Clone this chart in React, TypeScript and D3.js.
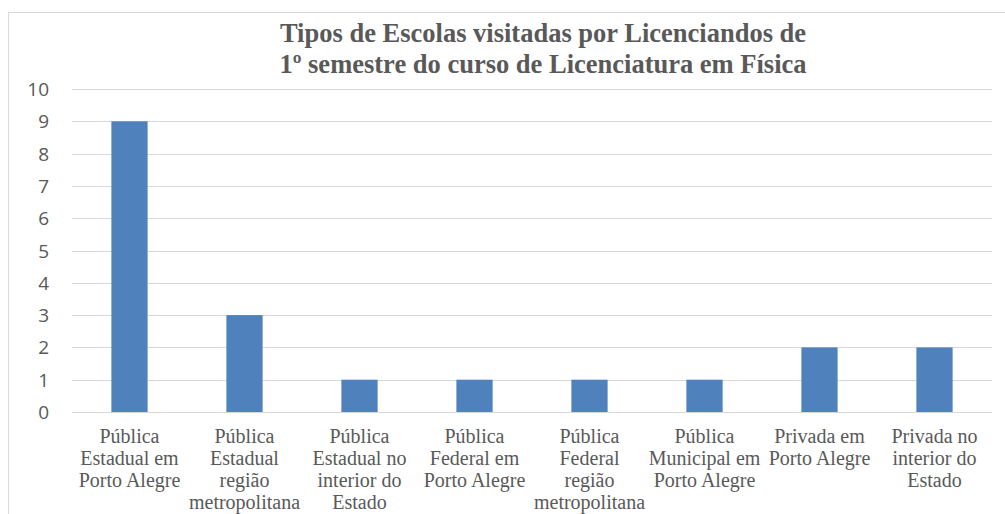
import React from "react";
import * as d3 from "d3";

const categories: string[][] = [
  ["Pública", "Estadual em", "Porto Alegre"],
  ["Pública", "Estadual", "região", "metropolitana"],
  ["Pública", "Estadual no", "interior do", "Estado"],
  ["Pública", "Federal em", "Porto Alegre"],
  ["Pública", "Federal", "região", "metropolitana"],
  ["Pública", "Municipal em", "Porto Alegre"],
  ["Privada em", "Porto Alegre"],
  ["Privada no", "interior do", "Estado"],
];
const values: number[] = [9, 3, 1, 1, 1, 1, 2, 2];
const yTicks: number[] = [0, 1, 2, 3, 4, 5, 6, 7, 8, 9, 10];
const titleLines: string[] = [
  "Tipos de Escolas visitadas por Licenciandos de",
  "1º semestre do curso de Licenciatura em Física",
];

export default function App() {
  const W = 1005, H = 514;
  const left = 72, right = 992, top = 89, bottom = 412;
  const x = d3.scaleBand<number>().domain(d3.range(categories.length)).range([left, right]).paddingInner(0.685).paddingOuter(0.3425);
  const y = d3.scaleLinear().domain([0, 10]).range([bottom, top]);
  const txt = "#595959";
  return (
    <svg width={W} height={H} style={{ position: "absolute", left: 0, top: 0 }}>
      <rect x={0} y={0} width={W} height={H} fill="#fff" />
      <rect x={8.5} y={12.5} width={1100} height={600} fill="none" stroke="#d9d9d9" strokeWidth={1} />
      {titleLines.map((t, i) => (
        <text key={i} x={543} y={42 + i * 31} textAnchor="middle" fontFamily="'Liberation Serif', serif" fontWeight="bold" fontSize={26.5} fill={txt}>{t}</text>
      ))}
      {yTicks.map((v) => (
        <g key={v}>
          <line x1={left} x2={right} y1={Math.round(y(v)) + 0.5} y2={Math.round(y(v)) + 0.5} stroke="#d9d9d9" strokeWidth={1} />
          <text x={49} y={y(v) + 7} textAnchor="end" fontFamily="'Open Sans', 'Liberation Sans', sans-serif" fontSize={19} fill={txt}>{v}</text>
        </g>
      ))}
      {values.map((v, i) => (
        <rect key={i} x={x(i)} y={y(v)} width={x.bandwidth()} height={bottom - y(v)} fill="#4F81BD" />
      ))}
      {categories.map((lines, i) => (
        <text key={i} textAnchor="middle" fontFamily="'Liberation Serif', serif" fontSize={20} fill={txt}>
          {lines.map((l, j) => (
            <tspan key={j} x={(x(i) as number) + x.bandwidth() / 2} y={443 + j * 22}>{l}</tspan>
          ))}
        </text>
      ))}
    </svg>
  );
}
